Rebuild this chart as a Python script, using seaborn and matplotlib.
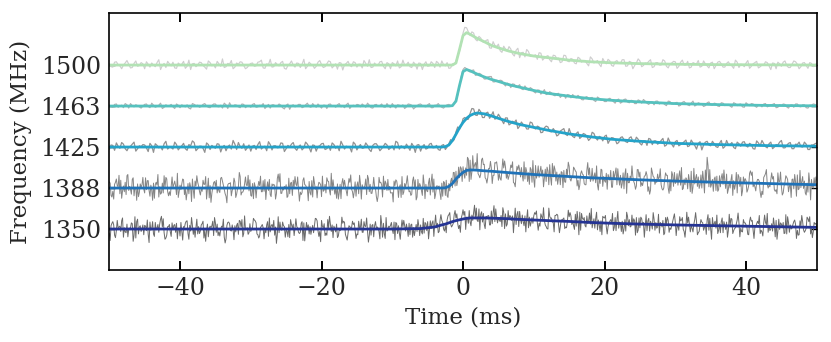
import numpy as np
import pandas as pd
import matplotlib
matplotlib.use("Agg")
import matplotlib.pyplot as plt
import seaborn as sns

# ---------------- data ----------------
freq_labels = ["1350", "1388", "1425", "1463", "1500"]
offsets = [0, 1, 2, 3, 4]

# observed (noisy) profiles, units of 0.01 trace spacing.
# obs_*:  t = -50, -49.5, ..., 50 ms
# half_*: t = -49.75, -49.25, ..., 49.75 ms
# qa_*:   t = -49.875, ..., 49.625 ms ; qb_*: t = -49.625, ..., 49.875 ms
obs_1500 = [3, -5, 8, -2, 0, 11, -7, 4, -3, 6,
            -9, 2, 5, -4, 13, -1, -6, 3, 7, -8,
            1, 9, -3, -11, 4, 0, 6, -5, 10, -2,
            -7, 3, 15, -4, 2, -9, 5, 8, -1, -6,
            4, -3, 7, 12, -8, 1, -5, 6, -2, 9,
            -10, 3, 0, 5, -6, 14, -3, 2, -8, 7,
            1, -4, 10, -7, 3, 6, -12, 4, -1, 8,
            -5, 2, 11, -3, -6, 5, 0, 9, -9, 3,
            6, -2, -7, 12, 1, -4, 7, -10, 4, 2,
            -3, 8, -6, 5, 10, -2, -8, 3,
            9, 33, 78, 91, 72, 78, 59, 66, 55, 62,
            41, 48, 51, 31, 39, 45, 27, 36, 18, 31,
            38, 21, 23, 14, 29, 17, 23, 8, 23, 17,
            8, 23, 8, 14, 3, 16, 11, 4, 20, 5,
            11, -4, 8, 14, -1, 8, 4, 13, -3, 9,
            -9, 5, 10, -1, 4, 13, -4, 6, 0, 10,
            -7, 5, 8, -3, 12, 0, -7, 6, 3, -5,
            10, -2, 5, -9, 7, 3, -5, 8, -2, 12,
            -6, 1, 5, -8, 3, 9, -4, 0, 6, -11,
            4, 7, -3, 10, -6, 2, 8, -9, 5, -1,
            6, -4, 3]
half_1500 = [-4, 7, 1, -9, 5, 2, -6, 10, -1, 3,
             8, -5, 0, 6, -11, 4, 9, -2, -7, 5,
             2, -8, 12, 3, -4, 7, -1, -10, 6, 1,
             9, -3, -6, 4, 11, -5, 2, 7, -9, 0,
             5, -2, 8, -7, 3, 14, -4, 1, 6, -8,
             -1, 10, -5, 4, 2, -9, 7, 0, -3, 11,
             -6, 3, 8, -2, -10, 5, 1, 9, -4, 6,
             2, -7, 4, 13, -5, -1, 8, -3, 6, -9,
             3, 10, -4, 0, 7, -6, 2, 5, -11, 8,
             -2, 4, 9, -5, 1, 6, -7, 2,
             23, 52, 92, 81, 81, 63, 70, 57, 60, 42,
             57, 45, 35, 46, 34, 39, 22, 41, 30, 20,
             33, 21, 25, 30, 12, 21, 13, 24, 16, 6,
             24, 10, 16, 5, 19, 7, 11, -2, 15, 8,
             2, 16, 3, 10, -3, 11, 4, 13, -2, 7,
             -1, 15, -4, 5, 9, -6, 6, 0, 13, -3,
             3, 9, -8, 7, 0, 9, -5, 4, 11, -3,
             3, -7, 7, -1, 9, -5, 4, 1, -8, 7,
             2, -4, 11, -3, 6, -7, 0, 8, -2, 5,
             -9, 3, 7, -1, -6, 10, 2, -4, 6, -8,
             4, 1]

obs_1463 = [2, -3, 5, 0, -4, 3, 6, -2, 1, -5,
            4, -1, 7, -3, 2, -6, 3, 1, -2, 5,
            -4, 0, 3, -7, 4, 2, -1, 6, -3, 1,
            5, -2, -5, 3, 8, -1, 2, -4, 4, 0,
            -3, 6, -2, 1, -6, 4, 3, -1, 5, -4,
            2, -8, 3, 0, 4, -2, 7, -3, 1, 5,
            -5, 2, 4, -1, -3, 6, 0, 3, -6, 2,
            4, -2, 1, 7, -4, 3, -1, 5, -3, 0,
            6, -5, 2, 3, -2, 4, -7, 1, 5, -1,
            3, -4, 2, 6, -3, 0, 4, -1,
            15, 46, 89, 91, 83, 88, 76, 78, 66, 71,
            72, 59, 61, 62, 49, 54, 54, 46, 52, 40,
            43, 45, 35, 39, 29, 40, 30, 32, 25, 31,
            26, 19, 27, 28, 20, 22, 15, 23, 20, 14,
            22, 14, 11, 17, 15, 7, 17, 10, 17, 8,
            13, 6, 13, 16, 7, 10, 3, 12, 8, 4,
            12, 5, 8, 0, 9, 6, 1, 12, 3, 6,
            -1, 8, 3, 7, 0, 8, 1, 4, -3, 6,
            4, -2, 8, 1, 5, -3, 3, 5, -2, 3,
            6, -3, 1, 4, -5, 3, 5, -1, 3, -4,
            2, 5, -2]
half_1463 = [-1, 4, -3, 2, 6, -5, 1, 3, -2, 0,
             5, -4, 2, -1, 7, -3, 0, 4, -6, 2,
             3, -2, -5, 6, 1, -3, 4, 0, -4, 5,
             -1, 2, 7, -6, 0, 3, -2, 5, -4, 1,
             4, -3, 2, 6, -1, -5, 3, 0, 2, -7,
             5, 1, -2, 4, -4, 3, -1, 6, -3, 0,
             2, -6, 5, 1, 3, -2, -4, 7, 0, -1,
             3, 5, -3, 2, -5, 4, 1, -2, 6, -4,
             0, 3, -1, -6, 5, 2, -3, 4, 1, -2,
             6, -4, 2, 0, -5, 3, 1,
             7, 27, 72, 94, 86, 87, 75, 80, 73, 66,
             72, 59, 63, 63, 54, 56, 45, 53, 48, 42,
             49, 39, 42, 32, 39, 34, 28, 35, 27, 30,
             21, 28, 28, 20, 23, 26, 16, 21, 17, 21,
             11, 19, 15, 11, 19, 11, 15, 7, 16, 10,
             14, 6, 15, 7, 12, 4, 10, 12, 5, 8,
             1, 11, 5, 9, 2, 11, 3, 7, 0, 8,
             5, 1, 10, 2, 6, -1, 7, 3, 0, 8,
             1, 5, -3, 4, 6, 0, 3, -2, 6, 0,
             4, -4, 3, 5, -2, 2, -3, 5, -2, 3,
             -5, 2, 4]

obs_1425 = [-6, 4, 10, -3, 7, -9, 2, 12, -4, 1,
            5, -11, 3, 8, -2, -7, 14, 0, -5, 6,
            -1, 9, -8, 3, 11, -4, 2, -13, 6, 4,
            -3, 7, 0, -9, 5, 16, -6, 1, 8, -2,
            -10, 4, 6, -5, 2, 13, -7, 3, -1, 9,
            -4, 0, 11, -8, 5, -2, 7, -12, 4, 1,
            8, -6, 3, 10, -3, -9, 5, 2, -1, 12,
            -7, 6, -2, 4, -11, 8, 1, -4, 9, -6,
            3, 14, -5, 0, 7, -8, 2, 5, -10, 6,
            -3, 9, -1, -6, 4, -6, 8, 14,
            37, 43, 69, 67, 82, 93, 77, 86, 72, 85,
            77, 68, 80, 65, 71, 54, 63, 66, 51, 55,
            44, 61, 47, 51, 35, 47, 49, 37, 39, 30,
            42, 31, 45, 26, 33, 21, 33, 26, 21, 33,
            17, 24, 26, 9, 23, 19, 11, 25, 13, 22,
            14, 24, 9, 15, 4, 19, 15, 7, 16, 2,
            22, 7, 13, 3, 9, 17, 3, 10, -5, 13,
            5, 14, 3, 8, -1, 16, 1, 6, 11, -4,
            8, 12, 3, 9, -4, 15, 3, 8, -2, 12,
            0, 5, 16, -2, 9, -4, 7, 12, 0, 7,
            -6, 5, 10]
half_1425 = [5, -8, 2, 11, -4, 0, 7, -10, 3, 6,
             -2, 9, -13, 4, 1, 8, -5, -1, 12, -7,
             3, -4, 6, 15, -9, 2, -3, 10, -6, 0,
             8, -12, 4, 1, -5, 7, 11, -3, -8, 5,
             2, -6, 13, 0, -9, 6, 3, -2, 10, -11,
             4, 7, -3, 1, -7, 12, -1, 5, -10, 3,
             9, -4, -8, 6, 2, 14, -5, 0, -12, 7,
             1, -3, 10, -6, 4, 8, -9, 2, 5, -2,
             -7, 11, 3, -4, 0, 9, -13, 6, 1, -5,
             7, -2, 4,
             -8, 6, 0, 18, 18, 49, 52, 72, 68, 94,
             78, 92, 72, 83, 70, 86, 70, 73, 57, 71,
             57, 60, 45, 61, 53, 44, 59, 44, 49, 36,
             51, 38, 45, 27, 39, 45, 28, 32, 23, 37,
             25, 31, 16, 36, 22, 26, 15, 29, 17, 22,
             8, 23, 18, 11, 25, 12, 19, 5, 15, 21,
             6, 15, 10, 21, 5, 12, 0, 16, 6, 13,
             1, 17, 4, 9, -7, 12, 5, 14, 1, 9,
             -3, 16, 6, -1, 12, 2, 13, 0, 6, -5,
             10, 16, 1, 8, -4, 6, 12, -2, 4, 11,
             -4, 6, 1, 12, -6, 5, 8]

obs_1388 = [15, -8, 22, -14, 5, 30, -3, -19, 10, 2,
            -12, 18, -5, 8, -22, 12, 26, -9, 1, -16,
            7, 20, -11, 3, -25, 14, -2, 9, 24, -13,
            4, -7, 17, -20, 11, 0, -15, 28, -4, 6,
            -18, 13, 2, -9, 21, -6, 10, -27, 15, -1,
            8, -14, 19, 5, -10, 25, -3, -17, 12, 3,
            -21, 9, 16, -6, 1, -12, 23, -8, 14, -24,
            6, 11, -2, 31, -13, 4, -19, 8, 17, -5,
            -11, 20, 2, -16, 13, -7, 27, -22, 5, 10,
            -9, 15, -26, 3, 12, -18, 11, 1,
            41, 25, 52, 31, 68, 47, 84, 34, 58, 26,
            49, 62, 19, 44, 51, 29, 64, 33, 45, 17,
            40, 50, 21, 34, 53, 24, 42, 7, 45, 25,
            38, 14, 53, 26, 39, 7, 32, 43, 16, 28,
            8, 46, 18, 33, 2, 36, 23, 11, 47, 13,
            28, 5, 39, 17, 31, -5, 26, 34, 8, 21,
            0, 40, 11, 29, -4, 25, 18, 2, 33, 8,
            20, 75, 2, 22, -8, 25, 17, -3, 33, 8,
            27, -7, 18, 36, 3, 13, -10, 26, 9, 21,
            -4, 37, 3, 14, -9, 21, 15, -2, 28, -17,
            13, 0, 19]
half_1388 = [-18, 9, 3, -25, 14, -6, 21, 1, -11, 26,
             -4, -20, 12, 7, -15, 30, -9, 4, 17, -23,
             10, -2, -14, 22, 5, -8, 19, -27, 6, 13,
             -12, 24, -3, 8, -19, 15, 2, -10, 27, -7,
             11, -24, 6, 18, -1, -16, 9, 23, -13, 4,
             -20, 14, 28, -5, -11, 7, 16, -22, 3, 12,
             -8, 25, -17, 1, 10, -26, 19, 5, -3, 15,
             -14, 8, 22, -9, 2, -21, 13, 29, -6, -12,
             17, 3, -23, 11, 6, -15, 20, -4, -18, 9,
             24, -10, 5, -13,
             16, -19, 16, 38, 19, 48, 24, 71, 39, 62,
             31, 73, 22, 47, 31, 64, 23, 49, 36, 56,
             12, 44, 50, 22, 37, 14, 55, 26, 44, 16,
             57, 27, 39, 8, 43, 32, 17, 47, 19, 42,
             8, 32, 48, 13, 26, 4, 36, 19, 41, 8,
             31, -2, 36, 22, 10, 45, 13, 30, 3, 38,
             16, 26, -5, 31, 20, 4, 35, 7, 22, -2,
             41, 10, 27, 0, 44, 3, 21, -6, 30, 9,
             34, 0, 18, -12, 26, 14, -4, 31, 3, 21,
             -8, 35, 7, 22, -4, 16, -12, 26, 10, -2,
             32, 1, 17, -10, 21, 4]
qa_1388 = [12, -27, 6, 19, -9, 33, -15, 2, -21, 8,
           25, -6, -30, 14, 3, -12, 22, -18, 9, 36,
           -4, -16, 11, -33, 17, 5, -8, 28, -24, 1,
           19, -11, 7, -36, 13, 24, -2, -17, 10, 31,
           -20, 4, 16, -9, -28, 21, 6, -14, 35, -5,
           -23, 12, 2, 27, -16, 8, -31, 18, -3, 14,
           29, -12, -6, 20, -25, 9, 3, -19, 32, -8,
           15, -27, 6, 23, -13, -1, 26, -22, 11, 4,
           -34, 17, 8, -10, 30, -18, 2, 21, -7, -26,
           13, 34, -15, 5,
           -20, 19, -7, 38, 6, 52, 35, 75, 21, 56,
           35, 69, 25, 48, 11, 61, 35, 71, 24, 41,
           13, 53, 27, 64, 16, 45, 2, 54, 30, 46,
           8, 60, 17, 34, 1, 46, 22, 51, 5, 35,
           11, 62, 23, 37, -5, 44, 14, 26, 2, 49,
           7, 37, -13, 29, 16, 45, 4, 29, -8, 49,
           9, 22, -2, 37, -13, 32, 15, 42, -1, 21,
           -9, 48, 4, 32, -12, 55, 9, 27, -4, 35,
           -1, 17, -18, 38, 4, 27, -10, 42, 10, 21,
           -23, 30, 0, 37, -8, 15, -17, 30, 4, 22,
           -20, 43, -1, 12, -29, 25]
qb_1388 = [-22, 14, 31, -7, -16, 4, 25, -30, 10, -3,
           18, 7, -25, 33, -12, 1, -19, 27, 5, -9,
           22, -29, 13, -4, 30, -17, 9, -1, -35, 16,
           3, 26, -14, 11, -6, -23, 38, -10, 7, 20,
           -26, 2, 29, -8, 15, -21, 6, 34, -13, -2,
           24, -18, 10, -32, 19, 1, -11, 28, -24, 8,
           -5, 17, 36, -15, -27, 12, 4, 23, -9, -20,
           31, 0, -16, 9, 26, -33, 14, -4, 21, -12,
           6, -23, 28, 3, -9, 18, -29, 11, 32, -7,
           -17, 22, 5, -28,
           13, -23, 24, 5, 51, 16, 49, 16, 79, 46,
           25, 57, 12, 65, 31, 47, 19, 66, 21, 50,
           3, 56, 31, 50, 9, 67, 24, 39, 3, 51,
           26, 54, 9, 40, 15, 63, 27, 42, -4, 34,
           8, 49, 17, 54, 11, 28, -3, 43, 23, 47,
           0, 33, 13, 54, -3, 27, 6, 40, -15, 28,
           14, 47, 0, 31, -7, 38, 7, 50, 8, 33,
           -13, 24, -1, 41, 12, 45, -8, 29, 3, 44,
           -13, 20, -3, 33, -19, 23, 6, 39, -7, 16,
           -16, 45, 3, 28, -14, 39, 5, 21, -23, 33,
           -4, 16, -12, 37, 3, 27]

obs_1350 = [-10, 18, -4, 7, -20, 12, 3, -15, 24, -6,
            9, -13, 1, 16, -8, 5, -22, 11, -2, 14,
            -17, 6, 20, -5, 2, -12, 10, -3, -19, 8,
            15, -7, 4, -24, 13, -1, 9, 19, -11, 3,
            -6, 22, -14, 7, 0, -18, 11, 5, -9, 17,
            -3, -21, 12, 6, -8, 15, 1, -13, 9, -4,
            21, -16, 3, 10, -7, -2, 14, -20, 6, 11,
            -12, 4, 18, -5, -15, 8, 2, 13, -23, 7,
            -1, 16, -10, 5, 12, -14, 3, -6,
            10, -10, 18, 1, 12, -9, 21, 8, 35, 9,
            27, 9, 47, 29, 17, 41, 21, 36, 11, 32,
            44, 18, 27, 6, 37, 23, 32, 11, 43, 18,
            26, 7, 32, 15, 37, 20, 0, 27, 33, 11,
            23, 5, 30, 20, 7, 41, 23, 32, 12, 25,
            -2, 20, 27, 6, 15, 28, 2, 19, -5, 23,
            10, 28, 3, 16, -4, 19, 24, 5, 13, -10,
            21, 8, 17, -3, 28, 4, 12, -7, 18, 10,
            -3, 22, 1, 13, -11, 18, 10, -4, 24, 3,
            15, -7, 10, 19, -3, 13, -11, 15, 38, 0,
            10, -5, 12, -10, 16, 2, 11, -14, 18, 2,
            30, -7, 5]
half_1350 = [8, -15, 3, 20, -7, -1, 13, -22, 5, 10,
             -4, 17, -12, 2, 24, -9, 6, -18, 11, 1,
             -6, 14, -25, 9, 4, -11, 19, -3, 7, -16,
             12, 0, -20, 16, -5, 8, -13, 23, -2, -9,
             5, 15, -17, 3, 10, -7, 21, -14, 1, 6,
             -19, 11, 2, -8, 18, -4, -12, 9, 25, -6,
             3, -15, 13, 7, -21, 0, 16, -10, 4, -3,
             19, -8, 6, -16, 11, 2, -24, 14, -5, 9,
             17, -11, 1, 8, -18, 12, -2,
             7, -12, 13, -2, 20, 3, 21, 0, 22, 12,
             35, 13, 27, 43, 14, 34, 25, 49, 17, 31,
             10, 39, 28, 18, 41, 12, 30, 20, 43, 13,
             32, 3, 28, 36, 14, 23, 6, 31, 16, 36,
             7, 27, 18, 32, -1, 23, 38, 8, 20, 3,
             26, 10, 31, 5, 19, -4, 22, 14, 0, 31,
             7, 20, -3, 25, 9, 26, 0, 16, -10, 21,
             13, 3, 28, 7, 20, -6, 15, 8, 23, -9,
             17, 12, -3, 28, 2, 13, -9, 17, 8, -4,
             22, 2, 15, -13, 19, 4, 13, -7, 16, 9,
             -5, 21, -1, 16, -12, 10, 18, -3, 8, -8,
             25, 1, 12]
qa_1350 = [-28, 10, 21, -6, 3, -19, 15, 30, -12, 1,
           7, -33, 18, -2, 12, 25, -15, -7, 9, -24,
           16, 4, -11, 28, -20, 6, 13, -30, 2, 19,
           -8, -17, 24, 9, -3, -26, 14, 5, 32, -13,
           0, 20, -22, 11, -9, 27, 3, -35, 17, 8,
           -5, 23, -16, 2, 14, -29, 10, -1, 26, -18,
           6, -10, 31, -21, 12, -4, 19, -27, 1, 15,
           -14, 24, 7, -32, 9, 18, -6, -20, 28, 4,
           -11, 13, -25, 21, 0, 10,
           -16, 23, -7, 16, -24, 15, 34, -6, 16, -9,
           40, 14, 37, -8, 34, 28, 8, 58, 18, 42,
           1, 33, 13, 49, 22, 52, 7, 33, -9, 36,
           24, 8, 47, 16, 40, -3, 30, 10, 51, 17,
           33, -9, 24, 3, 40, 8, 43, -3, 28, 13,
           50, 2, 22, -14, 33, 14, 38, -4, 17, -12,
           41, 5, 25, -9, 29, -20, 20, 13, -3, 36,
           5, 28, -8, 18, -16, 30, -1, 41, -7, 12,
           -14, 23, 4, 35, -25, 19, -3, 27, -1, 36,
           -11, 12, -19, 23, 4, 29, -23, 19, -3, 34,
           -8, 13, -19, 24, 3, 35, -8, 11, -23, 20,
           -2, 29, -12, 16]
qb_1350 = [14, -21, 5, 27, -9, 2, -30, 18, 8, -14,
           22, -3, -18, 11, 31, -25, 6, 15, -8, 1,
           -27, 19, 9, -13, 24, -5, -22, 12, 3, 28,
           -16, 7, -34, 17, 10, -7, 21, -19, 0, 13,
           26, -12, 4, -24, 18, 8, -15, 30, -3, -20,
           11, 2, 25, -11, -28, 16, 6, -9, 20, -31,
           13, 23, -6, 1, -17, 29, -13, 8, 19, -23,
           3, -8, 27, 12, -19, 5, 33, -12, -2, 16,
           -26, 8, 22, -5, 14, -20,
           11, -16, 26, -4, 20, -18, 14, 35, -5, 32,
           5, 45, 1, 35, -1, 45, 21, 51, -2, 38,
           30, 10, 57, 15, 33, 1, 45, 21, 51, 6,
           34, -7, 29, 14, 44, 7, 52, 1, 26, -7,
           34, 21, 1, 46, 11, 36, -14, 26, 5, 39,
           14, 41, -6, 28, -12, 23, 4, 43, -6, 23,
           8, 34, -15, 27, 11, 35, -5, 40, 2, 16,
           -14, 29, -1, 37, 7, 22, -20, 29, 2, 40,
           -6, 15, -13, 26, 7, 34, -9, 18, -20, 26,
           1, 39, -6, 15, -14, 21, 6, 33, -17, 10,
           -4, 27, -25, 15, -11, 30, 0, 22, -15, 33,
           -4, 18, -21, 14]

# fitted model profiles (trace-spacing units) at knot times (ms)
model_t = [-50, -10, -6, -4, -3, -2.5, -2, -1.5, -1, -0.5, 0, 0.5, 1, 1.5, 2,
           3, 4, 5, 6.5, 8, 10, 12, 15, 18, 21, 25, 30, 36, 43, 50]
model_1500 = [0, 0, 0, 0, 0, 0, 0, 0, 0.05, 0.38, 0.72, 0.79, 0.75, 0.70, 0.65,
              0.57, 0.48, 0.42, 0.34, 0.28, 0.22, 0.18, 0.12, 0.08, 0.055, 0.035, 0.02, 0.01, 0.005, 0]
model_1463 = [0, 0, 0, 0, 0, 0, 0, 0.01, 0.12, 0.50, 0.84, 0.89, 0.86, 0.82, 0.78,
              0.71, 0.65, 0.60, 0.52, 0.46, 0.38, 0.31, 0.24, 0.18, 0.14, 0.10, 0.06, 0.035, 0.015, 0.005]
model_1425 = [0, 0, 0, 0, 0, 0.01, 0.05, 0.16, 0.31, 0.47, 0.60, 0.70, 0.77, 0.81, 0.83,
              0.81, 0.76, 0.70, 0.62, 0.55, 0.48, 0.41, 0.32, 0.25, 0.19, 0.14, 0.09, 0.06, 0.035, 0.02]
model_1388 = [0, 0, 0, 0, 0, 0.005, 0.04, 0.11, 0.22, 0.31, 0.38, 0.43, 0.44, 0.44, 0.435,
              0.42, 0.41, 0.395, 0.375, 0.355, 0.33, 0.31, 0.28, 0.25, 0.23, 0.20, 0.17, 0.14, 0.11, 0.08]
model_1350 = [0, 0, 0.01, 0.05, 0.10, 0.12, 0.15, 0.18, 0.205, 0.225, 0.245, 0.26, 0.27, 0.27, 0.27,
              0.27, 0.265, 0.26, 0.25, 0.235, 0.22, 0.205, 0.185, 0.16, 0.14, 0.12, 0.10, 0.08, 0.06, 0.04]

x_ticks = [-40, -20, 0, 20, 40]

# ---------------- assemble ----------------
def samples(parts):
    """parts: list of (values, first_time, last_time)"""
    ts, ys = [], []
    for vals, t0, t1 in parts:
        ts.append(np.linspace(t0, t1, len(vals)))
        ys.append(np.asarray(vals, dtype=float) * 0.01)
    t = np.concatenate(ts)
    y = np.concatenate(ys)
    order = np.argsort(t, kind="stable")
    return t[order], y[order]

obs_sets = [
    [(obs_1350, -50, 50), (half_1350, -49.75, 49.75), (qa_1350, -49.875, 49.625), (qb_1350, -49.625, 49.875)],
    [(obs_1388, -50, 50), (half_1388, -49.75, 49.75), (qa_1388, -49.875, 49.625), (qb_1388, -49.625, 49.875)],
    [(obs_1425, -50, 50), (half_1425, -49.75, 49.75)],
    [(obs_1463, -50, 50), (half_1463, -49.75, 49.75)],
    [(obs_1500, -50, 50), (half_1500, -49.75, 49.75)],
]
model_all = [model_1350, model_1388, model_1425, model_1463, model_1500]
grey_colors = ["#6a6a6a", "#858585", "#919191", "#b0b0b0", "#cecece"]
grey_widths = [0.7, 0.7, 0.9, 0.85, 0.85]
line_colors = ["#253494", "#1f72b8", "#24a3c9", "#55c1be", "#b2e2b4"]

# ---------------- plot ----------------
sns.set_style("ticks")
plt.rcParams["font.family"] = ["DejaVu Serif"]
plt.rcParams["mathtext.fontset"] = "dejavuserif"

fig = plt.figure(figsize=(8.31, 3.42), dpi=100)
ax = fig.add_axes([0.1315, 0.2105, 0.8514, 0.7515])

for parts, off, gc, gw in zip(obs_sets, offsets, grey_colors, grey_widths):
    t, y = samples(parts)
    df = pd.DataFrame({"t": t, "y": y + off})
    sns.lineplot(data=df, x="t", y="y", ax=ax, color=gc, lw=gw,
                 estimator=None, sort=False, legend=False)

for vals, off, lc in zip(model_all, offsets, line_colors):
    df = pd.DataFrame({"t": model_t, "y": np.asarray(vals) + off})
    sns.lineplot(data=df, x="t", y="y", ax=ax, color=lc, lw=2.0,
                 estimator=None, sort=False, legend=False)

ax.set_xlim(-50, 50)
ax.set_ylim(-1.0, 5.27)
ax.set_xticks(x_ticks)
ax.set_yticks(offsets)
ax.set_yticklabels(freq_labels)
ax.set_xlabel("Time (ms)", fontsize=16.5, labelpad=5)
ax.set_ylabel("Frequency (MHz)", fontsize=16.5, labelpad=6)

ax.tick_params(axis="x", direction="in", top=True, bottom=True, length=6.5,
               width=1.4, labelsize=17, pad=5, color="black")
ax.tick_params(axis="y", direction="in", left=True, right=True, length=4,
               width=1.0, labelsize=17, pad=6, color="black")
for s in ax.spines.values():
    s.set_linewidth(1.2)
    s.set_color("black")
    s.set_visible(True)

fig.savefig("out.png", dpi=100)
